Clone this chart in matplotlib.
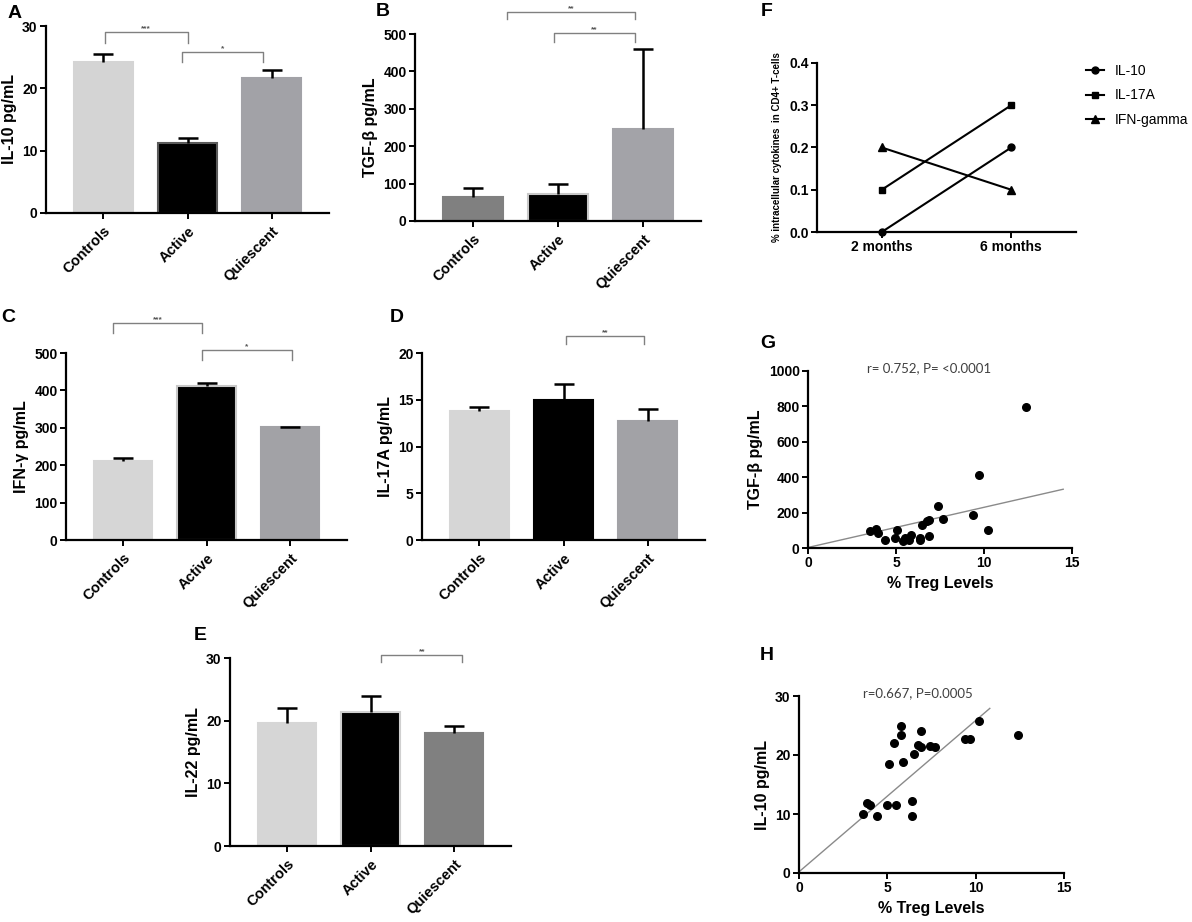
import matplotlib
matplotlib.use('Agg')
import matplotlib.pyplot as plt
import numpy as np

plt.rcParams['font.family'] = ['Liberation Sans', 'DejaVu Sans']
plt.rcParams['font.weight'] = 'bold'
plt.rcParams['axes.linewidth'] = 1.6

# ---------------- data ----------------
groups = ['Controls', 'Active', 'Quiescent']

il10_mean = [24.3, 11.2, 21.6]
il10_err = [1.2, 0.9, 1.3]
tgfb_mean = [65, 73, 245]
tgfb_err = [22, 25, 215]
ifng_mean = [211, 411, 301]
ifng_err = [7, 9, 1.5]
il17a_mean = [13.8, 14.95, 12.7]
il17a_err = [0.4, 1.75, 1.3]
il22_mean = [19.6, 21.4, 18.1]
il22_err = [2.4, 2.6, 1.0]

timepoints = ['2 months', '6 months']
f_il10 = [0.0, 0.2]
f_il17a = [0.1, 0.3]
f_ifng = [0.2, 0.1]

g_treg = [3.54, 3.89, 3.96, 4.39, 4.96, 5.06, 5.40, 5.49, 5.76, 5.85, 6.38,
          6.38, 6.50, 6.76, 6.89, 6.89, 7.39, 7.67, 9.38, 9.70, 10.21, 12.39]
g_tgfb = [96, 109, 85, 43, 58, 104, 40, 58, 43, 72, 58,
          43, 128, 153, 157, 66, 240, 162, 189, 413, 100, 798]
g_fit_x = [0, 14.5]
g_fit_y = [3, 332]

h_treg = [3.60, 3.87, 4.00, 4.40, 4.98, 5.11, 5.40, 5.49, 5.79, 5.79, 5.91, 6.42,
          6.42, 6.49, 6.75, 6.91, 6.91, 7.42, 7.68, 9.40, 9.70, 10.19, 12.40]
h_il10 = [9.98, 11.84, 11.56, 9.64, 11.56, 18.5, 22.0, 11.56, 24.87, 23.46, 18.78, 12.18,
          9.64, 20.25, 21.77, 24.14, 21.43, 21.49, 21.43, 22.73, 22.79, 25.72, 23.46]
h_fit_x = [0, 10.8]
h_fit_y = [0.2, 27.9]

# significance brackets: (x1, x2, y, drop, label)
a_sig = [(0.02, 1.0, 29.0, 1.7, '***'), (0.93, 1.9, 25.8, 1.6, '*')]
b_sig = [(0.4, 1.9, 559, 19, '**'), (0.95, 1.9, 503, 24, '**')]
c_sig = [(-0.12, 0.95, 580, 27, '***'), (0.95, 2.02, 507, 27, '*')]
d_sig = [(1.03, 1.96, 21.8, 0.8, '**')]
e_sig = [(1.13, 2.1, 30.5, 1.2, '**')]

# ---------------- figure ----------------
W, H = 1192, 922
fig = plt.figure(figsize=(W / 100, H / 100), dpi=100)

TICK = 10
LAB = 11.5


def px_axes(l, t, r, b):
    return fig.add_axes([l / W, 1 - b / H, (r - l) / W, (b - t) / H])


def style(ax):
    for s in ['top', 'right']:
        ax.spines[s].set_visible(False)
    ax.tick_params(direction='out', length=4, width=1.4, labelsize=TICK, pad=2)
    for lab in ax.get_yticklabels() + ax.get_xticklabels():
        lab.set_fontweight('bold')


def bar_panel(box, means, errs, colors, edges, ylim, yticks, ylabel, sig):
    ax = px_axes(*box)
    x = np.arange(len(groups))
    ax.bar(x, means, width=0.7, color=colors, edgecolor=edges, linewidth=1.5, zorder=2)
    _, caps, _ = ax.errorbar(x, means, yerr=[np.zeros(len(errs)), errs], fmt='none',
                             ecolor='black', elinewidth=1.8, capsize=7, capthick=1.8, zorder=3)
    caps[0].set_visible(False)
    ax.set_xlim(-0.68, 2.68)
    ax.set_ylim(*ylim)
    ax.set_yticks(yticks)
    ax.set_xticks(x)
    ax.set_xticklabels(groups, rotation=45, ha='right', rotation_mode='anchor',
                       fontsize=10.5, fontweight='bold')
    ax.set_ylabel(ylabel, fontsize=LAB, fontweight='bold', labelpad=4)
    style(ax)
    ax.tick_params(axis='x', labelsize=10.5, pad=4)
    for x1, x2, y, drop, lab in sig:
        ax.plot([x1, x1, x2, x2], [y - drop, y, y, y - drop], color='#808080', lw=1.0,
                clip_on=False, zorder=4)
        ax.text((x1 + x2) / 2, y, lab, ha='center', va='bottom', fontsize=6,
                color='#555555', clip_on=False)
    return ax


# A
bar_panel((46, 26, 329, 213), il10_mean, il10_err,
          ['#d4d4d4', '#000000', '#a2a2a7'], ['#d4d4d4', '#5a5a5a', '#a2a2a7'],
          (0, 30), [0, 10, 20, 30], 'IL-10 pg/mL', a_sig)
# B
bar_panel((415, 34, 701, 221), tgfb_mean, tgfb_err,
          ['#808080', '#000000', '#a3a3a8'], ['#808080', '#c8c8c8', '#a3a3a8'],
          (0, 500), [0, 100, 200, 300, 400, 500], 'TGF-β pg/mL', b_sig)
# C
bar_panel((66, 353, 347, 540), ifng_mean, ifng_err,
          ['#d6d6d6', '#000000', '#a2a2a6'], ['#d6d6d6', '#c8c8c8', '#a2a2a6'],
          (0, 500), [0, 100, 200, 300, 400, 500], 'IFN-γ pg/mL', c_sig)
# D
bar_panel((422, 353, 705, 540), il17a_mean, il17a_err,
          ['#d6d6d6', '#000000', '#a2a2a6'], ['#d6d6d6', '#000000', '#a2a2a6'],
          (0, 20), [0, 5, 10, 15, 20], 'IL-17A pg/mL', d_sig)
# E
bar_panel((230, 658, 511, 846), il22_mean, il22_err,
          ['#d6d6d6', '#000000', '#808080'], ['#d6d6d6', '#d0d0d0', '#808080'],
          (0, 30), [0, 10, 20, 30], 'IL-22 pg/mL', e_sig)

# F
axf = px_axes(817, 63, 1076, 232)
xf = np.arange(len(timepoints))
axf.plot(xf, f_il10, color='black', lw=1.5, marker='o', ms=5, label='IL-10', clip_on=False, zorder=3)
axf.plot(xf, f_il17a, color='black', lw=1.5, marker='s', ms=5, label='IL-17A', clip_on=False, zorder=3)
axf.plot(xf, f_ifng, color='black', lw=1.5, marker='^', ms=5.5, label='IFN-gamma', clip_on=False, zorder=3)
axf.set_xlim(-0.5, 1.5)
axf.set_ylim(0, 0.4)
axf.set_yticks([0.0, 0.1, 0.2, 0.3, 0.4])
axf.set_yticklabels(['0.0', '0.1', '0.2', '0.3', '0.4'])
axf.set_xticks(xf)
axf.set_xticklabels(timepoints, fontsize=TICK, fontweight='bold')
axf.set_ylabel('% intracellular cytokines  in CD4+ T-cells', fontsize=7, fontweight='bold', labelpad=5)
style(axf)
axf.legend(loc='upper left', bbox_to_anchor=(1086 / W, 1 - 64 / H),
           bbox_transform=fig.transFigure, frameon=False, handlelength=1.3,
           handletextpad=0.8, labelspacing=0.75, borderpad=0, borderaxespad=0,
           prop={'size': 10, 'weight': 'normal'})

# G
axg = px_axes(808, 371, 1072, 548)
axg.scatter(g_treg, g_tgfb, s=30, color='black', zorder=3, clip_on=False)
axg.plot(g_fit_x, g_fit_y, color='#8a8a8a', lw=1.0, zorder=2)
axg.set_xlim(0, 15)
axg.set_ylim(0, 1000)
axg.set_xticks([0, 5, 10, 15])
axg.set_yticks([0, 200, 400, 600, 800, 1000])
axg.set_xlabel('% Treg Levels', fontsize=LAB, fontweight='bold', labelpad=4)
axg.set_ylabel('TGF-β pg/mL', fontsize=LAB, fontweight='bold', labelpad=4)
style(axg)
axg.text(6.9, 1017, 'r= 0.752, P= <0.0001', ha='center', va='center', fontsize=9.5,
         fontweight='normal', family='Lato', color='#404040', clip_on=False)

# H
axh = px_axes(799, 696, 1064, 873)
axh.scatter(h_treg, h_il10, s=30, color='black', zorder=3, clip_on=False)
axh.plot(h_fit_x, h_fit_y, color='#8a8a8a', lw=1.0, zorder=2)
axh.set_xlim(0, 15)
axh.set_ylim(0, 30)
axh.set_xticks([0, 5, 10, 15])
axh.set_yticks([0, 10, 20, 30])
axh.set_xlabel('% Treg Levels', fontsize=LAB, fontweight='bold', labelpad=4)
axh.set_ylabel('IL-10 pg/mL', fontsize=LAB, fontweight='bold', labelpad=4)
style(axh)
axh.text(6.72, 30.5, 'r=0.667, P=0.0005', ha='center', va='center', fontsize=9.5,
         fontweight='normal', family='Lato', color='#404040', clip_on=False)

# panel letters
for lab, x, y in [('A', 15, 13), ('B', 383, 12), ('F', 767, 12), ('C', 8, 318),
                  ('D', 397, 317), ('E', 200, 635), ('G', 768, 343), ('H', 767, 655)]:
    fig.text(x / W, 1 - y / H, lab, fontsize=14, fontweight='bold', ha='center', va='center')

fig.savefig('out.png', dpi=100)
